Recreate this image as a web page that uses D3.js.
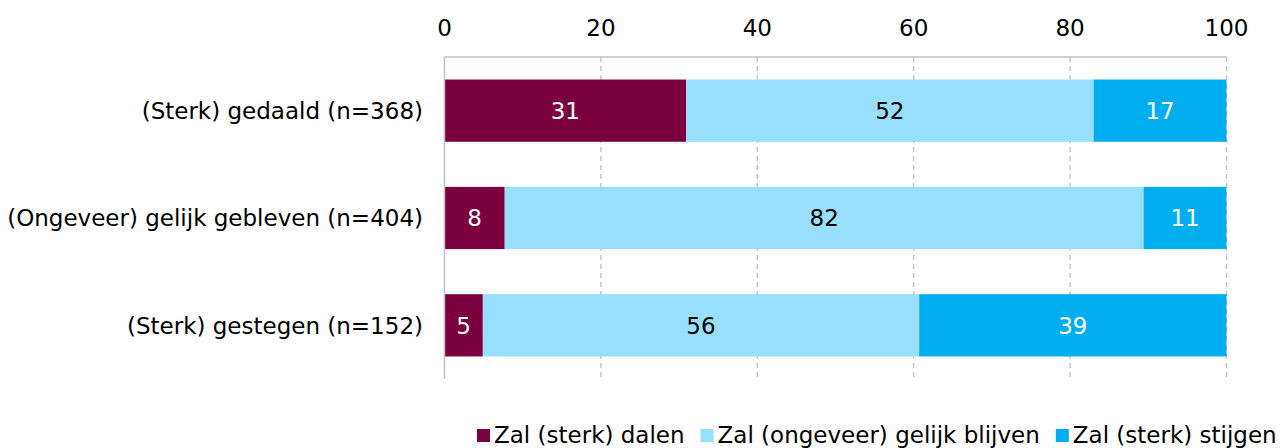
<!DOCTYPE html>
<html lang="nl">
<head>
  <meta charset="UTF-8">
  <title>Verwachting</title>
  <script src="https://d3js.org/d3.v7.min.js"></script>
  <style>
    body { margin: 0; background: #fff; }
    svg text { font-family: "DejaVu Sans", "Lucida Grande", sans-serif; font-size: 23px; }
  </style>
</head>
<body>
<svg width="1285" height="448"></svg>
<script>
  // data
  const categories = ["(Sterk) gedaald (n=368)", "(Ongeveer) gelijk gebleven (n=404)", "(Sterk) gestegen (n=152)"];
  const seriesNames = ["Zal (sterk) dalen", "Zal (ongeveer) gelijk blijven", "Zal (sterk) stijgen"];
  const dalen = [30.9, 7.7, 4.9];
  const gelijk = [52.1, 81.7, 55.8];
  const stijgen = [17.0, 10.6, 39.3];
  const xTicks = [0, 20, 40, 60, 80, 100];

  const colors = ["#7b003e", "#97dffc", "#00aeef"];
  const labelColors = ["#fff", "#000", "#fff"];

  const svg = d3.select("svg");
  const x = d3.scaleLinear().domain([0, 100]).range([444.5, 1226.5]);
  const y = d3.scaleBand().domain(categories).range([57, 379]).paddingInner(0.42).paddingOuter(0.21);

  const rows = categories.map((c, i) => ({ cat: c, vals: [dalen[i], gelijk[i], stijgen[i]] }));
  const stack = d3.stack().keys([0, 1, 2]).value((d, k) => d.vals[k]);
  const layers = stack(rows);

  // gridlines
  svg.append("g").selectAll("line")
    .data(xTicks.slice(1))
    .enter().append("line")
    .attr("x1", d => x(d)).attr("x2", d => x(d))
    .attr("y1", 57).attr("y2", 379)
    .attr("stroke", "#c0c0c0").attr("stroke-width", 1.3)
    .attr("stroke-dasharray", "5,4");

  // bars
  const g = svg.append("g");
  layers.forEach((layer, k) => {
    g.selectAll(".s" + k)
      .data(layer)
      .enter().append("rect")
      .attr("x", d => x(d[0]))
      .attr("width", d => x(d[1]) - x(d[0]))
      .attr("y", d => y(d.data.cat))
      .attr("height", y.bandwidth())
      .attr("fill", colors[k]);
    g.selectAll(".t" + k)
      .data(layer)
      .enter().append("text")
      .attr("x", d => (x(d[0]) + x(d[1])) / 2)
      .attr("y", d => y(d.data.cat) + y.bandwidth() / 2)
      .attr("dy", "0.36em")
      .attr("text-anchor", "middle")
      .attr("fill", labelColors[k])
      .text(d => d3.format(".0f")(d[1] - d[0]));
  });

  // axis frame
  svg.append("line")
    .attr("x1", x(0)).attr("x2", x(100)).attr("y1", 57).attr("y2", 57)
    .attr("stroke", "#c0c0c0").attr("stroke-width", 1.5);
  svg.append("line")
    .attr("x1", x(0)).attr("x2", x(0)).attr("y1", 57).attr("y2", 379)
    .attr("stroke", "#c0c0c0").attr("stroke-width", 1.5);

  // top tick labels
  svg.append("g").selectAll("text")
    .data(xTicks)
    .enter().append("text")
    .attr("x", d => x(d))
    .attr("y", 36)
    .attr("text-anchor", "middle")
    .attr("fill", "#000")
    .text(d => d);

  // category labels
  svg.append("g").selectAll("text")
    .data(categories)
    .enter().append("text")
    .attr("x", 423)
    .attr("y", d => y(d) + y.bandwidth() / 2)
    .attr("dy", "0.36em")
    .attr("text-anchor", "end")
    .attr("fill", "#000")
    .text(d => d);

  // legend
  const legend = svg.append("g");
  let lx = 477;
  seriesNames.forEach((name, k) => {
    legend.append("rect")
      .attr("x", lx).attr("y", 429).attr("width", 13).attr("height", 13)
      .attr("fill", colors[k]);
    const t = legend.append("text")
      .attr("x", lx + 17).attr("y", 443)
      .attr("fill", "#000")
      .text(name);
    lx += 17 + t.node().getComputedTextLength() + 16;
  });
</script>
</body>
</html>
